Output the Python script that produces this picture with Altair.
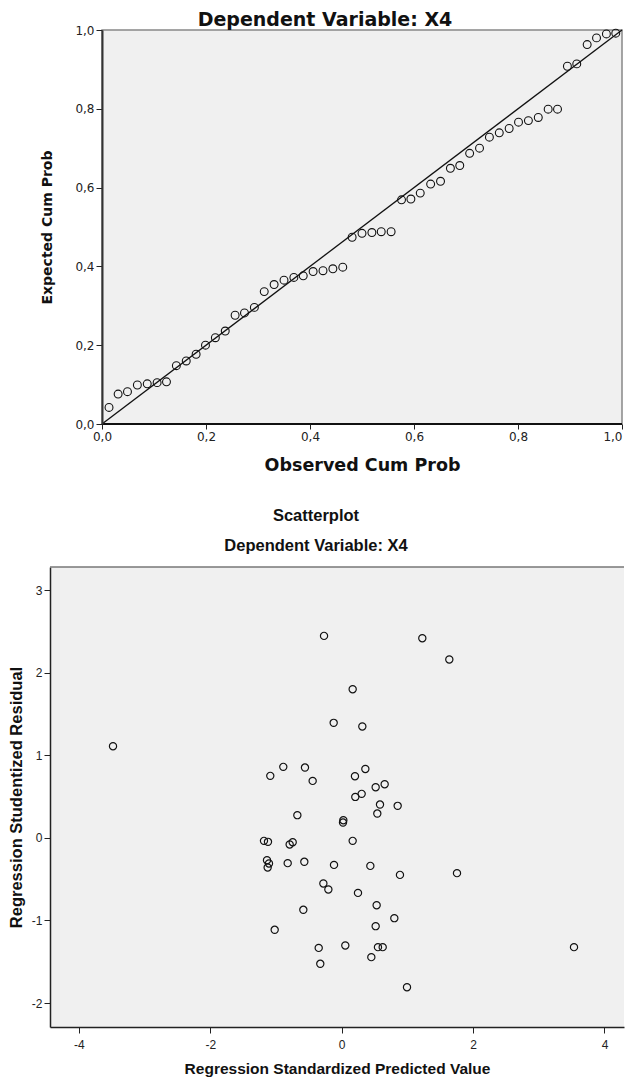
import altair as alt
import pandas as pd

# ---- P-P plot data ----
observed_cum = [0.0135, 0.031, 0.049, 0.068, 0.087, 0.106, 0.124, 0.143, 0.162, 0.181,
                0.199, 0.218, 0.237, 0.256, 0.274, 0.293, 0.312, 0.331, 0.350, 0.369,
                0.387, 0.406, 0.425, 0.444, 0.463, 0.481, 0.500, 0.519, 0.537, 0.556,
                0.576, 0.594, 0.612, 0.632, 0.651, 0.670, 0.688, 0.707, 0.726, 0.745,
                0.764, 0.783, 0.801, 0.820, 0.839, 0.858, 0.876, 0.895, 0.913, 0.933,
                0.951, 0.970, 0.988]
expected_cum = [0.042, 0.076, 0.082, 0.099, 0.102, 0.105, 0.107, 0.148, 0.160, 0.177,
                0.200, 0.219, 0.236, 0.276, 0.282, 0.296, 0.336, 0.354, 0.365, 0.372,
                0.376, 0.387, 0.389, 0.394, 0.398, 0.474, 0.484, 0.486, 0.488, 0.488,
                0.569, 0.571, 0.586, 0.609, 0.616, 0.649, 0.656, 0.687, 0.700, 0.728,
                0.739, 0.750, 0.766, 0.770, 0.778, 0.799, 0.799, 0.908, 0.914, 0.963,
                0.980, 0.990, 0.992]
pp_ticks = [0.0, 0.2, 0.4, 0.6, 0.8, 1.0]

# ---- Scatterplot data ----
std_pred = [-0.269, 1.227, 1.638, 0.167, -0.122, 0.314, -1.087, -0.889, -0.559, -0.442,
            0.202, 0.360, 0.517, 0.654, 0.207, 0.304, 0.583, 0.542, 0.852, -0.675,
            0.025, 0.020, -1.183, -1.122, -0.792, -0.746, 0.167, -1.137, -1.107, -1.127,
            -0.822, -0.569, -0.117, 0.436, 0.887, 1.755, -0.279, -0.203, 0.248, 0.532,
            0.801, -0.584, 0.517, -1.020, -0.350, 0.055, 0.552, 0.624, 0.451, -0.326,
            0.994, -3.481, 3.536]
stud_resid = [2.446, 2.418, 2.160, 1.800, 1.393, 1.349, 0.751, 0.860, 0.852, 0.690,
              0.747, 0.835, 0.614, 0.650, 0.496, 0.533, 0.404, 0.295, 0.388, 0.275,
              0.214, 0.186, -0.036, -0.048, -0.080, -0.052, -0.036, -0.270, -0.310, -0.358,
              -0.306, -0.290, -0.327, -0.339, -0.448, -0.427, -0.552, -0.625, -0.666, -0.815,
              -0.972, -0.871, -1.069, -1.113, -1.332, -1.303, -1.323, -1.323, -1.444, -1.525,
              -1.808, 1.110, -1.323]
x_ticks2 = [-4, -2, 0, 2, 4]
y_ticks2 = [-2, -1, 0, 1, 2, 3]

pp = pd.DataFrame({"obs": observed_cum, "exp": expected_cum})
diag = pd.DataFrame({"obs": [0.0, 1.0], "exp": [0.0, 1.0]})
frame = pd.DataFrame({"x0": [0.0], "x1": [1.0], "y0": [0.0], "y1": [1.0]})
sc = pd.DataFrame({"pred": std_pred, "resid": stud_resid})

TOPF = "DejaVu Sans"
BOTF = "Liberation Sans"
NARROW = "Liberation Sans Narrow, Liberation Sans, Arial, sans-serif"
comma = "replace(format(datum.value, '.1f'), '.', ',')"
plain = "'' + datum.value"

W1, H1 = 572, 394
W2, H2 = 574, 460

xs1 = alt.Scale(domain=[-0.1, 1.0], nice=False, zero=False)
ys1 = alt.Scale(domain=[0.0, 1.0], nice=False)

x_axis1 = alt.Axis(values=pp_ticks, labelExpr=comma, domain=False, grid=False,
                   title="Observed Cum Prob", titleFont=TOPF, titleFontSize=17.5,
                   titleFontWeight="bold", titleColor="#111", titleX=312,
                   labelFont=TOPF, labelFontSize=12, labelColor="#222", labelFlush=True,
                   tickColor="#222", tickSize=5, labelPadding=2, titlePadding=14,
                   zindex=1)
y_axis1 = alt.Axis(values=pp_ticks, labelExpr=comma, grid=False, offset=-52,
                   domainColor="#333", domainWidth=2,
                   title="Expected Cum Prob", titleFont=TOPF, titleFontSize=14,
                   titleFontWeight="bold", titleColor="#111",
                   labelFont=TOPF, labelFontSize=12, labelColor="#222",
                   tickColor="#222", tickSize=6, labelPadding=2, titlePadding=20,
                   zindex=1)

bg1 = alt.Chart(frame).mark_rect(fill="#f0f0f0", stroke="#888888", strokeWidth=1.5).encode(
    x=alt.X("x0:Q", scale=xs1, axis=x_axis1),
    x2="x1:Q",
    y=alt.Y("y0:Q", scale=ys1, axis=y_axis1),
    y2="y1:Q",
)
bottom_line = alt.Chart(frame).mark_rule(color="#111", strokeWidth=2).encode(
    x=alt.X("x0:Q", scale=xs1), x2="x1:Q", y=alt.Y("y0:Q", scale=ys1))
diag_line = alt.Chart(diag).mark_line(color="#111", strokeWidth=1.3).encode(
    x=alt.X("obs:Q", scale=xs1), y=alt.Y("exp:Q", scale=ys1))
pts1 = alt.Chart(pp).mark_point(shape="circle", filled=False, color="#111",
                                size=62, strokeWidth=1.1, opacity=1).encode(
    x=alt.X("obs:Q", scale=xs1), y=alt.Y("exp:Q", scale=ys1))

top = alt.layer(bg1, diag_line, bottom_line, pts1).properties(
    width=W1, height=H1,
    view=alt.ViewBackground(fill="white", strokeWidth=0),
    title=alt.TitleParams("Dependent Variable: X4", font=TOPF, fontSize=19,
                          fontWeight="bold", color="#111", offset=-5.5, dx=-11,
                          anchor="middle", frame="group"),
)

xs2 = alt.Scale(domain=[-4.44, 4.297], nice=False, zero=False)
ys2 = alt.Scale(domain=[-2.29, 3.28], nice=False, zero=False)

pts2 = alt.Chart(sc).mark_point(shape="circle", filled=False, color="#111",
                                size=52, strokeWidth=1.2, opacity=1).encode(
    x=alt.X("pred:Q", scale=xs2,
            axis=alt.Axis(values=x_ticks2, labelExpr=plain, grid=False,
                          domainColor="#222", domainWidth=1.5,
                          tickColor="#222", tickSize=6, labelFont=NARROW, labelFontSize=12,
                          labelColor="#222", labelPadding=6,
                          title="Regression Standardized Predicted Value",
                          titleFont=BOTF, titleFontSize=15.5, titleFontWeight="bold",
                          titleColor="#111", titlePadding=11)),
    y=alt.Y("resid:Q", scale=ys2,
            axis=alt.Axis(values=y_ticks2, labelExpr=plain, grid=False,
                          domainColor="#222", domainWidth=1.5,
                          tickColor="#222", tickSize=6, labelFont=NARROW, labelFontSize=12,
                          labelColor="#222", labelPadding=2,
                          title="Regression Studentized Residual",
                          titleFont=BOTF, titleFontSize=16.5, titleFontWeight="bold",
                          titleColor="#111", titlePadding=7)),
)
top_border = alt.Chart(frame).mark_rule(color="#777777", strokeWidth=1.5).encode(
    x=alt.value(0), x2=alt.value(W2), y=alt.value(0))

bottom = alt.layer(pts2, top_border).properties(
    width=W2, height=H2,
    view=alt.ViewBackground(fill="#f0f0f0", strokeWidth=0),
    title=alt.TitleParams("Scatterplot", subtitle="Dependent Variable: X4",
                          font=BOTF, fontSize=16.5, fontWeight="bold", color="#111",
                          subtitleFont=BOTF, subtitleFontSize=16.5,
                          subtitleFontWeight="bold", subtitleColor="#111",
                          subtitlePadding=13.5, offset=12, dx=-21, anchor="middle"),
)

chart = alt.vconcat(top, bottom, spacing=33, padding={"top": 2, "left": 0, "right": 0, "bottom": 0}
                    ).configure_view(stroke=None).configure(background="white")

chart.save("out.html", embed_options={"renderer": "svg", "actions": False})
